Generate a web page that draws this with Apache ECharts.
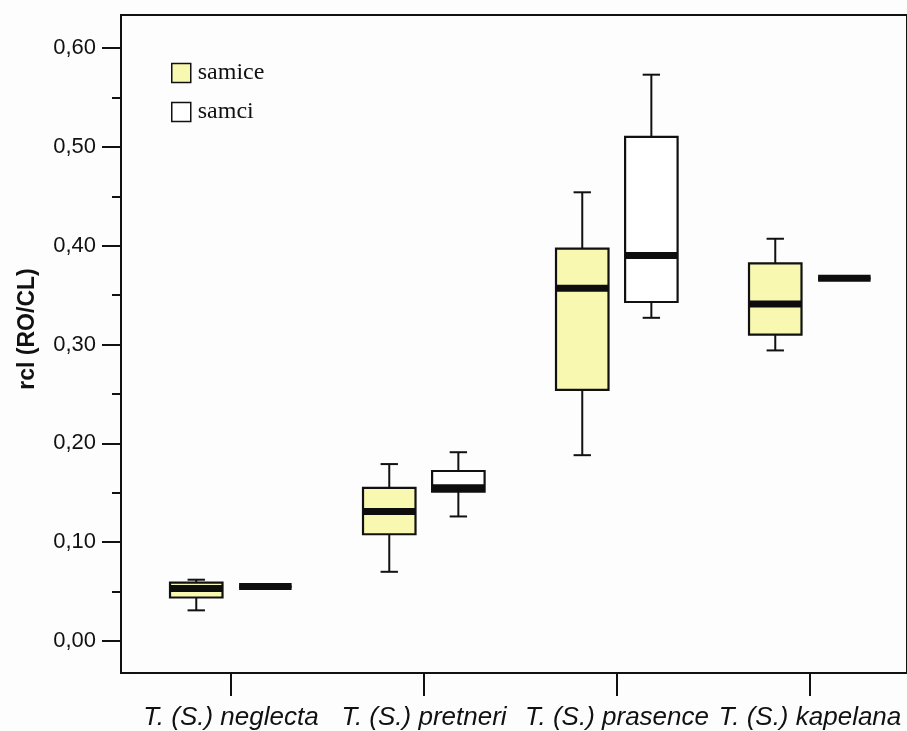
<!DOCTYPE html>
<html>
<head>
<meta charset="utf-8">
<script src="https://cdn.jsdelivr.net/npm/echarts@6/dist/echarts.min.js"></script>
<style>
	html, body { margin: 0; padding: 0; background: #fdfdfd; }
	#chart { width: 907px; height: 731px; }
</style>
</head>
<body>
<div id="chart"></div>
<script>
var categories = ['T. (S.) neglecta', 'T. (S.) pretneri', 'T. (S.) prasence', 'T. (S.) kapelana'];

// [min, Q1, median, Q3, max]
var samice = [
	[0.031, 0.044, 0.053, 0.059, 0.062],
	[0.070, 0.108, 0.131, 0.155, 0.179],
	[0.188, 0.254, 0.357, 0.397, 0.454],
	[0.294, 0.310, 0.341, 0.382, 0.407]
];
var samci = [
	[0.055, 0.055, 0.055, 0.055, 0.055],
	[0.126, 0.151, 0.155, 0.172, 0.191],
	[0.327, 0.343, 0.390, 0.510, 0.573],
	[0.367, 0.367, 0.367, 0.367, 0.367]
];

var yTicks = [0, 0.1, 0.2, 0.3, 0.4, 0.5, 0.6];
var yMinorTicks = [0.05, 0.15, 0.25, 0.35, 0.45, 0.55];
var yMin = -0.0324, yMax = 0.6334;

var sans = '"Liberation Sans", Arial, sans-serif';
var ink = '#111';

function boxRenderer(offsetRatio, fill) {
	return function(params, api) {
		var cat = api.value(0);
		var band = api.size([1, 0])[0];
		var cx = api.coord([cat, 0])[0] + band * offsetRatio;
		var y = [1, 2, 3, 4, 5].map(function(i) { return api.coord([cat, api.value(i)])[1]; });
		var half = band * 0.136;
		var cap = band * 0.045;
		var line = { stroke: ink, lineWidth: 2 };
		return {
			type: 'group',
			children: [
				{ type: 'line', shape: { x1: cx, y1: y[4], x2: cx, y2: y[3] }, style: line },
				{ type: 'line', shape: { x1: cx, y1: y[1], x2: cx, y2: y[0] }, style: line },
				{ type: 'line', shape: { x1: cx - cap, y1: y[4], x2: cx + cap, y2: y[4] }, style: line },
				{ type: 'line', shape: { x1: cx - cap, y1: y[0], x2: cx + cap, y2: y[0] }, style: line },
				{ type: 'rect', shape: { x: cx - half, y: y[3], width: half * 2, height: y[1] - y[3] },
					style: { fill: fill, stroke: ink, lineWidth: 2.2 } },
				{ type: 'line', shape: { x1: cx - half, y1: y[2], x2: cx + half, y2: y[2] },
					style: { stroke: '#0d0d0d', lineWidth: 7 } }
			]
		};
	};
}

function rows(list) {
	return list.map(function(d, i) { return [i].concat(d); });
}

var myChart = echarts.init(document.getElementById('chart'));

var option = {
	backgroundColor: '#fdfdfd',
	animation: false,
	legend: {
		orient: 'vertical',
		left: 166,
		top: 56,
		itemWidth: 19,
		itemHeight: 19,
		itemGap: 15,
		icon: 'rect',
		textStyle: { fontFamily: '"Liberation Serif", "Times New Roman", serif', fontSize: 24, color: ink, padding: [0, 0, 0, 2] },
		data: [
			{ name: 'samice', itemStyle: { color: '#f8f8b0', borderColor: ink, borderWidth: 1.5 } },
			{ name: 'samci', itemStyle: { color: '#ffffff', borderColor: ink, borderWidth: 1.5 } }
		]
	},
	grid: [
		{ left: 121, top: 15, right: -4, bottom: 58, show: true, borderColor: ink, borderWidth: 2, backgroundColor: 'transparent' },
		{ left: 134.5, top: 15, right: 0.5, bottom: 58 }
	],
	xAxis: [
		{ type: 'value', gridIndex: 0, show: false },
		{
			type: 'category',
			gridIndex: 1,
			data: categories,
			axisLine: { show: true, onZero: false, lineStyle: { color: ink, width: 2 } },
			axisTick: { show: true, interval: 0, alignWithLabel: true, length: 23, lineStyle: { color: ink, width: 2 } },
			axisLabel: { interval: 0, margin: 32, fontFamily: sans, fontSize: 26, fontStyle: 'italic', color: ink }
		}
	],
	yAxis: [
		{ type: 'value', gridIndex: 0, show: false },
		{
			type: 'value',
			gridIndex: 1,
			offset: 13.5,
			min: yMin,
			max: yMax,
			name: 'rcl (RO/CL)',
			nameLocation: 'middle',
			nameRotate: 90,
			nameGap: 82,
			nameTextStyle: { fontFamily: sans, fontSize: 23, fontWeight: 'bold', color: ink, padding: [0, 0, 0, 30] },
			splitLine: { show: false },
			axisLine: { show: true, lineStyle: { color: ink, width: 2 } },
			axisTick: { show: true, length: 19, customValues: yTicks, lineStyle: { color: ink, width: 2 } },
			axisLabel: {
				margin: 25, fontFamily: sans, fontSize: 22, color: ink,
				customValues: yTicks,
				formatter: function(v) { return v.toFixed(2).replace('.', ','); }
			}
		},
		{
			type: 'value',
			gridIndex: 1,
			offset: 13.5,
			min: yMin,
			max: yMax,
			position: 'left',
			splitLine: { show: false },
			axisLine: { show: false },
			axisTick: { show: true, length: 9, customValues: yMinorTicks, lineStyle: { color: ink, width: 2 } },
			axisLabel: { show: false }
		}
	],
	series: [
		{
			name: 'samice',
			type: 'custom',
			xAxisIndex: 1,
			yAxisIndex: 1,
			itemStyle: { color: '#f8f8b0' },
			renderItem: boxRenderer(-0.18, '#f8f8b0'),
			encode: { x: 0, y: [1, 2, 3, 4, 5] },
			data: rows(samice)
		},
		{
			name: 'samci',
			type: 'custom',
			xAxisIndex: 1,
			yAxisIndex: 1,
			itemStyle: { color: '#ffffff' },
			renderItem: boxRenderer(0.178, '#ffffff'),
			encode: { x: 0, y: [1, 2, 3, 4, 5] },
			data: rows(samci)
		}
	]
};

myChart.setOption(option);
</script>
</body>
</html>
